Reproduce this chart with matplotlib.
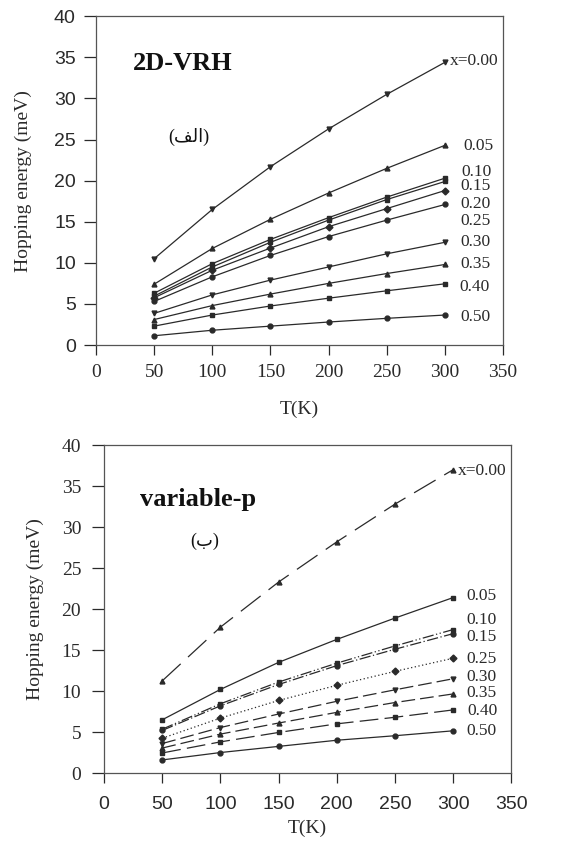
import matplotlib

matplotlib.use("Agg")
import matplotlib.pyplot as plt  # noqa: E402

T = [50, 100, 150, 200, 250, 300]
x_labels = ["x=0.00", "0.05", "0.10", "0.15", "0.20", "0.25", "0.30", "0.35", "0.40", "0.50"]

# --- panel (a): 2D-VRH ---
vrh = {
    "x=0.00": [10.5, 16.5, 21.7, 26.3, 30.5, 34.4],
    "0.05": [7.4, 11.75, 15.3, 18.5, 21.5, 24.3],
    "0.10": [6.3, 9.9, 12.85, 15.5, 18.0, 20.3],
    "0.15": [5.95, 9.5, 12.5, 15.2, 17.7, 19.9],
    "0.20": [5.75, 9.1, 11.8, 14.4, 16.6, 18.8],
    "0.25": [5.3, 8.3, 10.9, 13.2, 15.2, 17.1],
    "0.30": [3.85, 6.1, 7.9, 9.5, 11.1, 12.5],
    "0.35": [3.1, 4.8, 6.2, 7.5, 8.7, 9.8],
    "0.40": [2.3, 3.65, 4.75, 5.7, 6.6, 7.45],
    "0.50": [1.13, 1.8, 2.3, 2.8, 3.25, 3.65],
}
vrh_label_y = [34.6, 24.2, 21.1, 19.3, 17.2, 15.1, 12.5, 9.9, 7.1, 3.4]
vrh_label_x = [304, 316, 314, 313, 313, 313, 313, 313, 312, 313]
vrh_markers = ["v", "^", "s", "s", "D", "o", "v", "^", "s", "o"]

# --- panel (b): variable-p ---
vp_names = ["x=0.00", "0.05", "0.10", "0.15", "0.25", "0.30", "0.35", "0.40", "0.50"]
vp = {
    "x=0.00": [11.25, 17.8, 23.3, 28.2, 32.8, 37.0],
    "0.05": [6.5, 10.2, 13.5, 16.3, 18.9, 21.4],
    "0.10": [5.35, 8.45, 11.1, 13.4, 15.5, 17.5],
    "0.15": [5.2, 8.2, 10.8, 13.1, 15.1, 17.0],
    "0.25": [4.25, 6.7, 8.85, 10.7, 12.4, 14.0],
    "0.30": [3.6, 5.55, 7.2, 8.75, 10.15, 11.5],
    "0.35": [3.05, 4.75, 6.1, 7.4, 8.6, 9.65],
    "0.40": [2.45, 3.8, 4.95, 6.0, 6.8, 7.7],
    "0.50": [1.6, 2.5, 3.25, 4.0, 4.55, 5.15],
}
vp_label_y = [36.9, 21.6, 18.7, 16.65, 13.9, 11.7, 9.8, 7.6, 5.1]
vp_label_x = [304, 311, 311, 311, 311, 311, 311, 312, 311]
vp_markers = ["^", "s", "s", "o", "D", "v", "^", "s", "o"]
vp_styles = [
    (0, (20, 8)),
    "-",
    (0, (9, 2, 1, 2, 1, 2)),
    (0, (9, 2, 1, 2)),
    (0, (1, 2)),
    (0, (11, 4)),
    (0, (11, 4)),
    (0, (15, 5)),
    "-",
]

INK = "#2a2a2a"
SERIF = ["Liberation Serif", "DejaVu Serif"]
SANS = ["Liberation Sans", "DejaVu Sans"]
ARAB = ["Liberation Serif", "DejaVu Sans"]


def _style_axes(ax, xtick_family, ytick_family, xpad, ypad, xlabelpad, ylabelpad):
    ax.set_xlim(0, 350)
    ax.set_ylim(0, 40)
    ax.set_xticks(range(0, 351, 50))
    ax.set_yticks(range(0, 41, 5))
    ax.tick_params(direction="out", width=0.9, colors=INK, labelsize=14)
    ax.tick_params(axis="x", length=7.5, pad=xpad)
    ax.tick_params(axis="y", length=8.5, pad=ypad)
    for lab in ax.get_xticklabels():
        lab.set_family(xtick_family)
    for lab in ax.get_yticklabels():
        lab.set_family(ytick_family)
    for sp in ax.spines.values():
        sp.set_color("#555555")
        sp.set_linewidth(0.9)
    ax.set_xlabel("T(K)", family=SERIF, fontsize=14, color=INK, labelpad=xlabelpad)
    ax.set_ylabel("Hopping energy (meV)", family=SERIF, fontsize=14, color=INK, labelpad=ylabelpad)


fig = plt.figure(figsize=(5.85, 8.43), dpi=100)

# top panel
ax1 = fig.add_axes([0.164, 0.5907, 0.696, 0.390])
for name, mk, ly, lx in zip(x_labels, vrh_markers, vrh_label_y, vrh_label_x):
    ax1.plot(T, vrh[name], "-", color=INK, lw=0.9, marker=mk, ms=3.5, mfc=INK, mec=INK)
    ax1.text(lx, ly, name, family=SERIF, fontsize=12.5, color=INK, va="center", ha="left")
ax1.text(32, 34.2, "2D-VRH", family=SERIF, fontsize=19, weight="bold", color="#111111", va="center")
ax1.text(62, 25.3, "(\uFED2\uFEDF\uFE8D)", family=ARAB, fontsize=13, color="#111111", va="center")
_style_axes(ax1, SERIF, SANS, xpad=6, ypad=6, xlabelpad=14, ylabelpad=16)

# bottom panel
ax2 = fig.add_axes([0.178, 0.0830, 0.696, 0.389])
for name, mk, ls, ly, lx in zip(vp_names, vp_markers, vp_styles, vp_label_y, vp_label_x):
    ax2.plot(T, vp[name], linestyle=ls, color=INK, lw=0.9, marker=mk, ms=3.5, mfc=INK, mec=INK)
    ax2.text(lx, ly, name, family=SERIF, fontsize=12.5, color=INK, va="center", ha="left")
ax2.text(31, 33.4, "variable-p", family=SERIF, fontsize=19, weight="bold", color="#111111", va="center")
ax2.text(74, 28.2, "(\uFE8F)", family=ARAB, fontsize=13, color="#111111", va="center")
_style_axes(ax2, SANS, SERIF, xpad=9, ypad=8, xlabelpad=5, ylabelpad=13)

fig.savefig("out.png", dpi=100)
plt.close(fig)
